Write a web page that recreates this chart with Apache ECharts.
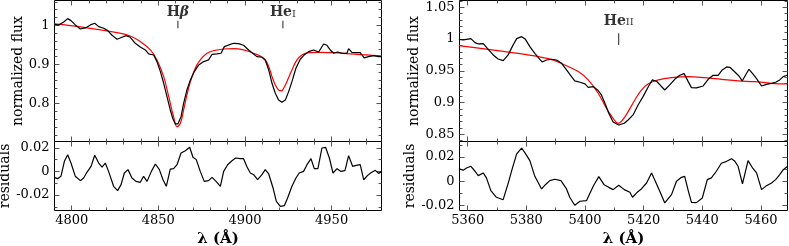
<!DOCTYPE html>
<html><head><meta charset="utf-8">
<script src="https://cdn.jsdelivr.net/npm/echarts@6/dist/echarts.min.js"></script>
<style>html,body{margin:0;padding:0;background:#fff}#c{width:789px;height:246px}</style>
</head><body><div id="c"></div>
<script>
// ---------- data ----------
const leftObsWave = [4790.0,4792.5,4795.4,4797.7,4799.6,4802.1,4805.0,4807.9,4810.8,4813.3,4815.6,4818.5,4820.8,4823.3,4826.2,4829.0,4831.5,4833.8,4836.7,4839.6,4842.5,4844.4,4847.3,4849.2,4851.2,4853.1,4855.0,4856.9,4858.3,4859.8,4861.3,4863.1,4864.6,4866.5,4868.5,4870.8,4873.3,4876.2,4879.0,4881.0,4883.8,4886.2,4888.1,4890.6,4893.5,4896.3,4899.2,4902.1,4904.4,4906.9,4909.8,4911.7,4913.7,4915.6,4917.5,4919.4,4921.3,4923.3,4925.2,4927.1,4929.4,4931.9,4934.2,4936.7,4939.6,4942.5,4945.4,4947.3,4949.2,4951.2,4953.5,4956.0,4958.8,4959.8,4961.7,4964.6,4966.5,4968.8,4971.3,4974.2,4977.1,4979.0];
const leftObsFlux = [1.0026,1.0009,1.0085,1.0170,1.0119,1.0009,0.9906,0.9932,1.0009,1.0051,0.9966,0.9923,0.9864,0.9745,0.9642,0.9693,0.9736,0.9693,0.9540,0.9447,0.9370,0.9268,0.9242,0.9072,0.8817,0.8519,0.8178,0.7837,0.7625,0.7480,0.7480,0.7667,0.8008,0.8348,0.8604,0.8817,0.8987,0.9072,0.9115,0.9259,0.9268,0.9285,0.9455,0.9498,0.9540,0.9532,0.9489,0.9370,0.9285,0.9200,0.9183,0.9115,0.8859,0.8519,0.8263,0.8093,0.8033,0.8093,0.8306,0.8561,0.8902,0.9132,0.9242,0.9327,0.9370,0.9319,0.9523,0.9489,0.9370,0.9285,0.9319,0.9285,0.9285,0.9404,0.9310,0.9302,0.9302,0.9166,0.9200,0.9225,0.9200,0.9200];
const leftFitWave = [4790.0,4806.9,4826.2,4833.8,4839.6,4845.4,4849.2,4853.1,4856.0,4858.8,4860.8,4862.7,4864.6,4866.5,4868.5,4871.3,4874.2,4878.1,4881.9,4887.7,4893.5,4899.2,4905.0,4910.8,4913.7,4915.6,4917.5,4919.4,4921.0,4922.3,4924.2,4927.1,4930.0,4932.9,4936.7,4941.5,4951.2,4960.8,4970.4,4979.0];
const leftFitFlux = [1.0034,0.9949,0.9813,0.9728,0.9583,0.9370,0.9115,0.8689,0.8178,0.7667,0.7412,0.7497,0.7837,0.8220,0.8561,0.8902,0.9115,0.9285,0.9353,0.9395,0.9404,0.9370,0.9285,0.9157,0.8944,0.8689,0.8476,0.8348,0.8323,0.8391,0.8561,0.8859,0.9115,0.9242,0.9302,0.9310,0.9302,0.9268,0.9242,0.9217];
const leftResWave = [4790.0,4791.9,4793.8,4795.8,4797.7,4799.6,4802.1,4805.0,4806.9,4808.8,4811.2,4813.3,4815.6,4817.5,4819.4,4821.3,4824.2,4826.5,4828.5,4830.4,4832.5,4834.8,4837.1,4839.6,4841.5,4843.5,4846.0,4848.3,4850.6,4852.7,4854.6,4856.9,4858.8,4860.8,4863.1,4865.6,4868.1,4870.0,4871.9,4874.2,4876.5,4879.0,4881.0,4883.3,4885.8,4887.7,4890.0,4892.5,4894.6,4897.3,4899.2,4901.2,4903.1,4905.0,4907.3,4909.8,4911.7,4913.7,4916.2,4918.1,4920.4,4922.7,4924.6,4927.1,4929.4,4931.3,4933.8,4935.8,4938.1,4940.0,4942.1,4944.4,4946.5,4948.7,4950.8,4953.1,4955.4,4957.7,4959.8,4962.1,4964.2,4966.5,4968.5,4970.8,4972.7,4975.2,4977.1,4979.0];
const leftResVal = [-0.0050,-0.0061,-0.0041,0.0087,0.0143,0.0072,-0.0041,-0.0078,-0.0055,-0.0007,0.0044,0.0138,0.0072,0.0038,0.0072,0.0001,-0.0126,-0.0163,-0.0112,-0.0013,0.0016,-0.0055,-0.0084,-0.0092,-0.0041,-0.0084,0.0001,0.0064,0.0016,-0.0070,-0.0126,0.0021,0.0024,0.0058,0.0157,0.0177,0.0206,0.0121,0.0101,0.0001,-0.0084,-0.0078,-0.0050,-0.0084,-0.0126,0.0001,0.0058,0.0092,0.0115,0.0109,0.0109,0.0038,-0.0013,-0.0027,-0.0070,-0.0027,0.0016,-0.0021,-0.0140,-0.0254,-0.0296,-0.0291,-0.0226,-0.0126,-0.0055,-0.0013,0.0001,0.0058,0.0109,0.0024,0.0024,0.0200,0.0206,0.0115,-0.0013,0.0024,0.0001,0.0007,0.0135,0.0044,0.0052,0.0058,-0.0070,-0.0033,-0.0010,0.0010,-0.0016,0.0001];

const rightObsWave = [5357.0,5358.5,5359.6,5361.1,5362.5,5363.6,5365.3,5367.0,5368.7,5370.4,5372.1,5373.8,5375.2,5376.7,5378.4,5379.7,5381.2,5382.9,5384.6,5385.4,5386.9,5388.6,5390.3,5392.0,5393.7,5395.4,5396.5,5398.3,5400.0,5401.1,5402.8,5404.3,5405.6,5406.8,5408.1,5409.6,5411.5,5413.4,5414.7,5416.4,5418.1,5419.8,5421.5,5422.9,5424.4,5425.9,5427.2,5428.9,5430.6,5432.3,5433.8,5435.2,5436.3,5438.0,5440.3,5442.0,5443.7,5445.4,5446.8,5448.3,5449.4,5451.1,5452.5,5453.6,5455.1,5455.9,5457.1,5458.5,5460.2,5461.9,5463.6,5465.0,5466.4,5467.6,5468.9];
const rightObsFlux = [0.9996,0.9986,0.9996,1.0007,0.9944,0.9923,0.9928,0.9839,0.9750,0.9687,0.9661,0.9750,0.9881,1.0007,1.0038,0.9996,0.9881,0.9776,0.9682,0.9640,0.9671,0.9682,0.9671,0.9619,0.9514,0.9409,0.9341,0.9320,0.9294,0.9241,0.9252,0.9199,0.9121,0.8989,0.8832,0.8696,0.8648,0.8675,0.8727,0.8806,0.8963,0.9094,0.9241,0.9357,0.9336,0.9262,0.9199,0.9278,0.9367,0.9430,0.9456,0.9330,0.9236,0.9231,0.9262,0.9367,0.9430,0.9430,0.9514,0.9561,0.9556,0.9482,0.9419,0.9341,0.9461,0.9524,0.9461,0.9378,0.9262,0.9288,0.9304,0.9320,0.9357,0.9409,0.9430];
const rightFitWave = [5357.0,5367.0,5378.4,5387.5,5393.1,5397.7,5401.1,5404.5,5407.3,5409.6,5411.3,5413.0,5414.7,5417.0,5419.3,5421.5,5425.0,5429.5,5435.2,5440.9,5446.5,5452.2,5457.9,5463.6,5468.9];
const rightFitFlux = [0.9897,0.9839,0.9766,0.9692,0.9593,0.9488,0.9357,0.9147,0.8911,0.8753,0.8675,0.8738,0.8858,0.9042,0.9199,0.9294,0.9357,0.9393,0.9409,0.9393,0.9367,0.9341,0.9330,0.9304,0.9294];
const rightResWave = [5357.0,5358.5,5359.6,5361.1,5362.5,5363.6,5365.3,5366.4,5367.9,5369.8,5372.1,5374.0,5375.2,5376.7,5378.4,5379.7,5381.2,5382.9,5385.2,5386.5,5388.0,5389.7,5391.8,5393.7,5394.8,5396.5,5398.3,5400.5,5402.8,5404.7,5406.5,5408.1,5409.6,5411.5,5413.4,5415.3,5416.2,5417.8,5419.3,5421.0,5422.7,5424.4,5425.5,5427.2,5429.5,5431.2,5432.9,5434.0,5435.2,5436.3,5438.0,5440.0,5441.7,5443.1,5444.8,5446.5,5448.3,5450.0,5451.1,5452.2,5453.7,5455.6,5457.0,5458.5,5460.2,5461.9,5463.6,5465.0,5466.4,5467.6,5468.9];
const rightResVal = [0.0105,0.0091,0.0110,0.0124,0.0083,0.0047,0.0069,0.0028,-0.0077,-0.0132,-0.0152,0.0000,0.0105,0.0226,0.0275,0.0229,0.0171,0.0041,-0.0063,-0.0028,0.0006,0.0017,0.0006,-0.0063,-0.0132,-0.0198,-0.0165,-0.0160,-0.0041,0.0039,-0.0028,-0.0050,-0.0069,-0.0033,-0.0069,-0.0091,-0.0132,-0.0091,-0.0061,-0.0014,0.0069,-0.0022,-0.0083,-0.0179,-0.0110,0.0000,0.0033,0.0041,-0.0077,-0.0174,-0.0176,-0.0138,0.0014,0.0028,0.0083,0.0149,0.0165,0.0187,0.0165,0.0124,-0.0022,0.0171,0.0116,0.0069,-0.0069,-0.0036,-0.0014,0.0014,0.0055,0.0096,0.0121];

const leftWaveTicks = [4800,4850,4900,4950];
const rightWaveTicks = [5360,5380,5400,5420,5440,5460];
const leftFluxTicks = [0.8,0.9,1];
const rightFluxTicks = [0.85,0.9,0.95,1,1.05];
const residTicks = [-0.02,0,0.02];

const leftLineIds = [{el:'H', sub:'β', wave:4861.3}, {el:'He', sub:'I', wave:4921.9}];
const rightLineIds = [{el:'He', sub:'II', wave:5411.5}];

// ---------- helpers ----------
const FONT = 'DejaVu Serif';
const zip = (a,b) => a.map((v,i)=>[v,b[i]]);
function minorVals(min,max,step,majors){
  const out=[]; const s=Math.ceil(min/step-1e-9);
  for(let k=s;k*step<=max+1e-9;k++){const v=+(k*step).toFixed(6); if(!majors.some(m=>Math.abs(m-v)<1e-9)) out.push(v);}
  return out;
}
const fmt = v => String(+(+v).toFixed(4));

const panels = [
  {grid:{left:54.5,top:0.5,width:327,height:141}, x:[4790.09,4978.78], y:[0.7032,1.0633], xMaj:leftWaveTicks, xStep:10, yMaj:leftFluxTicks, yStep:0.02, xLab:false, yName:'normalized flux', yGap:26},
  {grid:{left:54.5,top:141.5,width:327,height:69}, x:[4790.09,4978.78], y:[-0.03319,0.02553], xMaj:leftWaveTicks, xStep:10, yMaj:residTicks, yStep:0.01, xLab:true, yName:'residuals', yGap:39.5},
  {grid:{left:459.5,top:0.5,width:328,height:141}, x:[5357.21,5469.05], y:[0.8388,1.0607], xMaj:rightWaveTicks, xStep:10, yMaj:rightFluxTicks, yStep:0.01, xLab:false, yName:'normalized flux', yGap:33.5},
  {grid:{left:459.5,top:141.5,width:328,height:69}, x:[5357.21,5469.05], y:[-0.02413,0.03289], xMaj:rightWaveTicks, xStep:10, yMaj:residTicks, yStep:0.01, xLab:true, yName:'residuals', yGap:39.5}
];

const grids=[], xAxes=[], yAxes=[];
function axis(kind, gi, rng, pos, vals, len, showLabel, extra){
  const a = {type:'value', gridIndex:gi, min:rng[0], max:rng[1], position:pos,
    axisLine:{show:false, onZero:false}, splitLine:{show:false}, minorTick:{show:false},
    axisTick:{show:true, inside:true, length:len, customValues:vals, lineStyle:{color:'#555', width:1}},
    axisLabel: showLabel ? {show:true, customValues:vals, formatter:fmt, margin:kind==='x'?4:5,
      fontFamily:FONT, fontSize:13, color:'#000', showMinLabel:true, showMaxLabel:true,
      textStyle:{fontFamily:FONT}} : {show:false}};
  return Object.assign(a, extra||{});
}
panels.forEach((p,i)=>{
  grids.push(Object.assign({show:true, borderColor:'#000', borderWidth:1, backgroundColor:'transparent', containLabel:false, outerBoundsMode:'none'}, p.grid));
  const xMin = minorVals(p.x[0],p.x[1],p.xStep,p.xMaj);
  const yMin = minorVals(p.y[0],p.y[1],p.yStep,p.yMaj);
  const xName = p.xLab ? {name:'λ (Å)', nameLocation:'middle', nameGap:21,
      nameTextStyle:{fontFamily:FONT, fontSize:15, fontWeight:'bold', color:'#000'}} : {};
  xAxes.push(axis('x',i,p.x,'bottom',p.xMaj,5,p.xLab,xName));
  xAxes.push(axis('x',i,p.x,'bottom',xMin,3,false));
  xAxes.push(axis('x',i,p.x,'top',p.xMaj,5,false));
  xAxes.push(axis('x',i,p.x,'top',xMin,3,false));
  yAxes.push(axis('y',i,p.y,'left',p.yMaj,5,true,{name:p.yName, nameLocation:'middle', nameGap:p.yGap,
      nameTextStyle:{fontFamily:FONT, fontSize:14, color:'#000'}}));
  yAxes.push(axis('y',i,p.y,'left',yMin,3,false));
  yAxes.push(axis('y',i,p.y,'right',p.yMaj,5,false));
  yAxes.push(axis('y',i,p.y,'right',yMin,3,false));
});

const lineStyleBlack = {color:'#000', width:1.2};
const lineStyleRed = {color:'#ff0000', width:1.2};
function lineSeries(pi, data, style, smooth){
  return {type:'line', xAxisIndex:pi*4, yAxisIndex:pi*4, data, showSymbol:false, symbol:'none',
    smooth:smooth||false, lineStyle:style, itemStyle:{color:style.color}, clip:true, z:smooth?3:4, silent:true};
}
const series = [
  lineSeries(0, zip(leftObsWave,leftObsFlux), lineStyleBlack),
  lineSeries(0, zip(leftFitWave,leftFitFlux), lineStyleRed, 0.4),
  lineSeries(1, zip(leftResWave,leftResVal), lineStyleBlack),
  lineSeries(2, zip(rightObsWave,rightObsFlux), lineStyleBlack),
  lineSeries(2, zip(rightFitWave,rightFitFlux), lineStyleRed, 0.4),
  lineSeries(3, zip(rightResWave,rightResVal), lineStyleBlack)
];
const rich = {
  el:{fontFamily:FONT, fontSize:14, fontWeight:'bold', color:'#000'},
  gk:{fontFamily:FONT, fontSize:14, fontWeight:'bold', fontStyle:'italic', color:'#000'},
  sm:{fontFamily:FONT, fontSize:10, color:'#000', padding:[3,0,0,0]}
};
function addIds(pi, ids, labelY, tickTop, tickBot){
  ids.forEach(d=>{
    const isGreek = /[α-ω]/.test(d.sub);
    series.push({type:'scatter', xAxisIndex:pi*4, yAxisIndex:pi*4, symbolSize:0, silent:true,
      data:[[d.wave,labelY]],
      label:{show:true, position:'inside', color:'#000', formatter:'{el|'+d.el+'}'+(isGreek?'{gk|'+d.sub+'}':'{sm|'+d.sub+'}'), rich}});
    series.push({type:'line', xAxisIndex:pi*4, yAxisIndex:pi*4, showSymbol:false, symbol:'none', silent:true,
      data:[[d.wave,tickTop],[d.wave,tickBot]], lineStyle:{color:'#222', width:1}});
  });
}
addIds(0, leftLineIds, 1.032, 1.0117, 0.9923);
addIds(2, rightLineIds, 1.0284, 1.0091, 0.9907);

const chart = echarts.init(document.getElementById('c'), null, {renderer:'canvas'});
chart.setOption({animation:false, backgroundColor:'#fff', textStyle:{fontFamily:FONT, color:'#000'},
  grid:grids, xAxis:xAxes, yAxis:yAxes, series});
</script></body></html>
